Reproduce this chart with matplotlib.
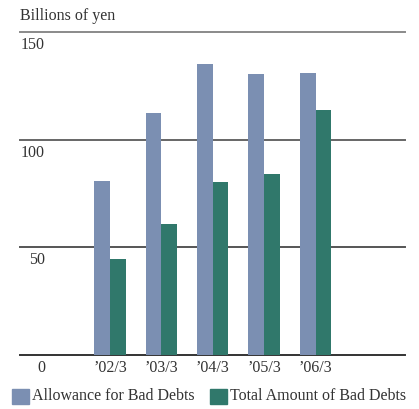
import matplotlib
matplotlib.use("Agg")
import matplotlib.pyplot as plt
import matplotlib.transforms as mtransforms
from matplotlib.patches import Rectangle
import numpy as np

categories = ["\u201902/3", "\u201903/3", "\u201904/3", "\u201905/3", "\u201906/3"]
allowance = [80.8, 112.3, 135.1, 130.5, 130.9]
total_bad_debts = [44.6, 60.8, 80.3, 84.0, 113.7]
y_ticks = [0, 50, 100, 150]
series_names = ["Allowance for Bad Debts", "Total Amount of Bad Debts"]
unit_label = "Billions of yen"

BLUE = "#7b8fb2"
GREEN = "#30786b"
TEXT = "#333333"

W, H = 419, 409
fig = plt.figure(figsize=(W / 100, H / 100), dpi=100)
plt.rcParams["font.family"] = ["Liberation Serif", "DejaVu Serif"]

def fx(px):
    return px / W

def fy(py):
    return 1 - py / H

# plot area in pixel terms: x 20..405, y 32..355
ax = fig.add_axes([fx(20), fy(355), fx(405) - fx(20), fy(32) - fy(355)])
x = np.arange(len(categories))
ax.set_xlim(-1.75, 5.74)
ax.set_ylim(0, 150)
ax.axis("off")

bw = 0.305
ax.bar(x - bw / 2, allowance, width=bw, color=BLUE, zorder=2)
ax.bar(x + bw / 2, total_bad_debts, width=bw, color=GREEN, zorder=2)

line_colors = {0: "#333333", 50: "#555555", 100: "#666666", 150: "#8a8a8a"}
for v in y_ticks:
    ax.axhline(v, color=line_colors[v], lw=1.4, zorder=1, clip_on=False)

fs = 11.5
# y labels sit just below their gridlines
offset = mtransforms.ScaledTranslation(0, -13 / 100, fig.dpi_scale_trans)
ylab_tr = mtransforms.blended_transform_factory(fig.transFigure, ax.transData) + offset
for v in y_ticks:
    ax.text(fx(45), v, str(v), transform=ylab_tr, ha="right", va="center",
            fontsize=fs, color=TEXT)

xlab_tr = mtransforms.blended_transform_factory(ax.transData, ax.transData) + offset
for i, c in enumerate(categories):
    ax.text(i, 0, c, transform=xlab_tr, ha="center", va="center",
            fontsize=fs, color=TEXT)

fig.text(fx(20), fy(16), unit_label, ha="left", va="center", fontsize=fs, color=TEXT)

# legend
for (sx, tx), name, col in zip([(12, 32), (210, 230)], series_names, [BLUE, GREEN]):
    fig.patches.append(Rectangle((fx(sx), fy(404)), fx(17), fy(389) - fy(404),
                                 transform=fig.transFigure, color=col))
    fig.text(fx(tx), fy(396), name, ha="left", va="center", fontsize=fs, color=TEXT)

fig.savefig("out.png", dpi=100)
